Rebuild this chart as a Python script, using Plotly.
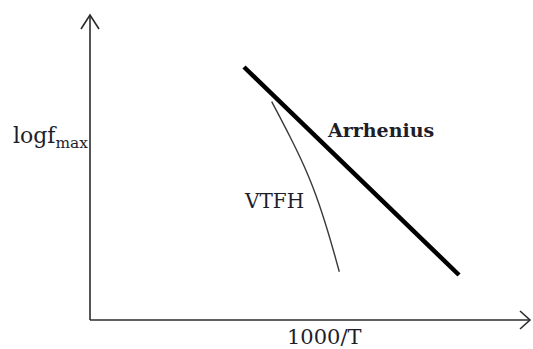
import plotly.graph_objects as go

# Schematic relaxation map: log f_max versus 1000/T (arbitrary units)
arr_x = [1.54, 3.69]
arr_y = [2.53, 0.45]

vtfh_x = [1.817, 1.907, 1.995, 2.079, 2.157, 2.227, 2.289, 2.345, 2.397, 2.446, 2.493]
vtfh_y = [2.183, 2.013, 1.843, 1.673, 1.503, 1.333, 1.163, 0.993, 0.823, 0.653, 0.483]

# axis extents (arrow tips)
x_end = 4.40
y_end = 3.05

FONT = "DejaVu Serif"
TXT = "#1e1e2a"
AX = "#2b2b2b"

fig = go.Figure()

# axes with open arrowheads
fig.add_trace(go.Scatter(x=[0, 0], y=[0, y_end], mode="lines",
                         line=dict(color=AX, width=1.6), hoverinfo="skip"))
fig.add_trace(go.Scatter(x=[0, x_end], y=[0, 0], mode="lines",
                         line=dict(color=AX, width=1.6), hoverinfo="skip"))
fig.add_trace(go.Scatter(x=[-0.09, 0, 0.09], y=[y_end - 0.14, y_end, y_end - 0.14],
                         mode="lines", line=dict(color=AX, width=1.6), hoverinfo="skip"))
fig.add_trace(go.Scatter(x=[x_end - 0.10, x_end, x_end - 0.10], y=[0.09, 0, -0.09],
                         mode="lines", line=dict(color=AX, width=1.6), hoverinfo="skip"))

# Arrhenius straight line
fig.add_trace(go.Scatter(x=arr_x, y=arr_y, mode="lines",
                         line=dict(color="#000000", width=4.5), hoverinfo="skip"))
# VTFH curved behaviour
fig.add_trace(go.Scatter(x=vtfh_x, y=vtfh_y, mode="lines",
                         line=dict(color="#3a3a3a", width=1.4, shape="spline", smoothing=1.0),
                         hoverinfo="skip"))

fig.add_annotation(x=0, y=1.83, text="logf<sub>max</sub>", showarrow=False,
                   xanchor="right", yanchor="middle",
                   font=dict(family=FONT, size=22, color=TXT))
fig.add_annotation(x=2.90, y=1.90, text="<b>Arrhenius</b>", showarrow=False,
                   xanchor="center", yanchor="middle",
                   font=dict(family=FONT, size=19, color=TXT))
fig.add_annotation(x=1.84, y=1.19, text="VTFH", showarrow=False,
                   xanchor="center", yanchor="middle",
                   font=dict(family=FONT, size=20, color=TXT))
fig.add_annotation(x=2.34, y=-0.165, text="1000/T", showarrow=False,
                   xanchor="center", yanchor="middle",
                   font=dict(family=FONT, size=21, color=TXT))

fig.update_layout(
    width=533, height=349,
    margin=dict(l=0, r=0, t=0, b=0),
    paper_bgcolor="white", plot_bgcolor="white",
    showlegend=False,
    xaxis=dict(range=[-0.9, 4.43], visible=False, fixedrange=True),
    yaxis=dict(range=[-0.29, 3.20], visible=False, fixedrange=True),
)

fig.write_html("out.html", config={"displayModeBar": False})
